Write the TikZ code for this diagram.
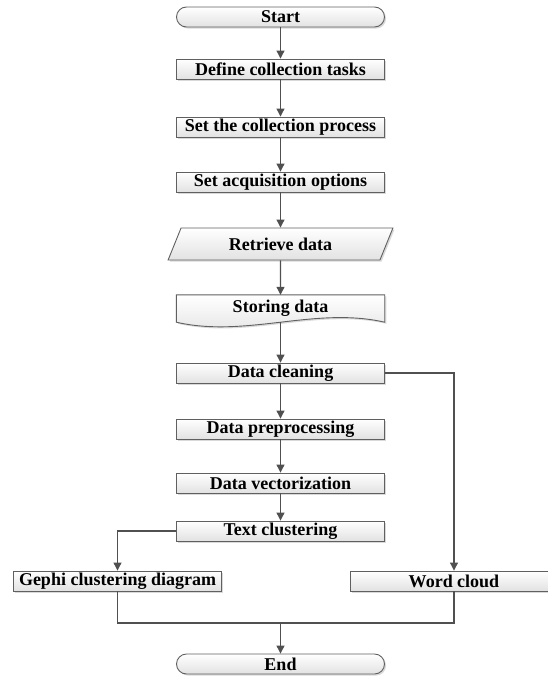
\documentclass[tikz,border=0pt]{standalone}
\usepackage{fontspec}
\setmainfont{Liberation Serif}
\usetikzlibrary{arrows.meta,shapes.geometric,shadows,backgrounds}

\definecolor{linegray}{HTML}{505050}
\definecolor{edgegray}{HTML}{606060}
\definecolor{shadegray}{HTML}{E2E2E2}

\begin{document}
\begin{tikzpicture}[
    x=1pt, y=-1pt,
    font=\fontsize{18}{20}\selectfont\bfseries,
    >={Triangle[width=8pt,length=8pt]},
    conn/.style={draw=linegray, line width=1.1pt},
    arr/.style={conn, ->},
    boxbase/.style={draw=edgegray, line width=0.9pt, top color=white, bottom color=shadegray,
                    drop shadow={shadow xshift=1.6pt, shadow yshift=-1.6pt, opacity=0.3},
                    inner sep=0pt, minimum height=20pt},
    procbox/.style={boxbase, minimum width=208pt},
    termbox/.style={procbox, rounded corners=10pt},
    iobox/.style={boxbase, trapezium, trapezium left angle=62, trapezium right angle=118,
                  trapezium stretches=true, minimum width=225pt, minimum height=32pt}
  ]
  \useasboundingbox (0,0) rectangle (548,679);

  % Columna principal
  \node[termbox] (start) at (280.5, 17) {Start};
  \node[procbox] (tasks) at (280.5, 69) {Define collection tasks};
  \node[procbox] (proc) at (280.5, 127) {Set the collection process};
  \node[procbox] (opts) at (280.5, 182) {Set acquisition options};
  \node[iobox] (retr) at (280.5, 244) {Retrieve data};
  \node[minimum width=208pt, minimum height=27pt, inner sep=0pt] (store) at (280.5, 308.5) {Storing data};
  \node[procbox] (clean) at (280.5, 373) {Data cleaning};
  \node[procbox] (prep) at (280.5, 429) {Data preprocessing};
  \node[procbox] (vec) at (280.5, 483) {Data vectorization};
  \node[procbox] (clus) at (280.5, 531) {Text clustering};

  % Ramas laterales
  \node[procbox] (gephi) at (117.5, 581) {Gephi clustering diagram};
  \node[procbox] (cloud) at (454, 581) {Word cloud};
  \node[termbox] (fin) at (280.5, 664) {End};

  % Documento con borde ondulado
  \begin{scope}[on background layer]
    \path[boxbase] (store.north west) -- (store.north east) -- (store.south east)
      .. controls +(-70,-16) and +(70,16) .. (store.south west) -- cycle;
  \end{scope}

  % Flechas
  \draw[arr] (start) -- (tasks);
  \draw[arr] (tasks) -- (proc);
  \draw[arr] (proc) -- (opts);
  \draw[arr] (opts) -- (retr);
  \draw[arr] (retr) -- (store);
  \draw[arr] (store.south) -- (clean);
  \draw[arr] (clean) -- (prep);
  \draw[arr] (prep) -- (vec);
  \draw[arr] (vec) -- (clus);
  \draw[arr] (clean.east) -| (cloud.north);
  \draw[arr] (clus.west) -| (gephi.north);

  \coordinate (merge) at (280.5, 623);
  \draw[conn] (gephi.south) |- (merge) -| (cloud.south);
  \draw[arr] (merge) -- (fin);
\end{tikzpicture}
\end{document}
